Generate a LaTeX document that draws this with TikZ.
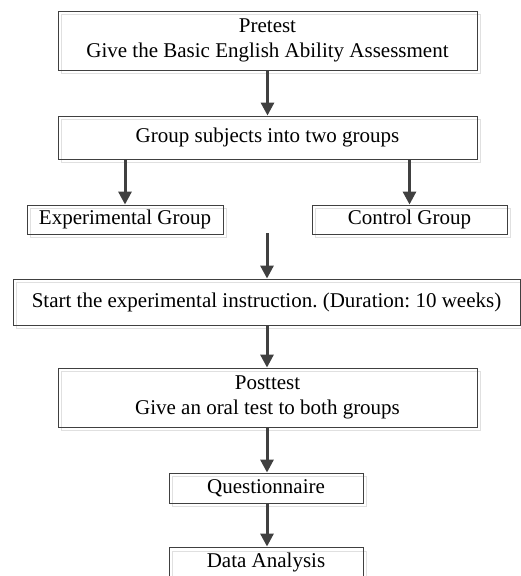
\documentclass[tikz,border=0pt]{standalone}
\usepackage{fontspec}
\setmainfont{Liberation Serif}
\usetikzlibrary{arrows.meta}
\frenchspacing

\begin{document}
\begin{tikzpicture}
[x=1pt,y=-1pt
,bx/.style={draw=black!75,line width=0.9pt,inner sep=0pt,align=center,
  font=\fontsize{21}{25}\selectfont}
,sh/.style={draw=black!12,line width=0.9pt}
,ar/.style={draw=black!75,line width=3pt,arrows={-Triangle[width=13pt,length=13pt]}}
]
\useasboundingbox (0,0) rectangle (520,576);
% shadows
\draw[sh] (61,14) rectangle (480,73);
\draw[sh] (61,119) rectangle (480,162);
\draw[sh] (30,208) rectangle (226,237);
\draw[sh] (315,208) rectangle (510,237);
\draw[sh] (16,282) rectangle (523,328);
\draw[sh] (61,371) rectangle (480,430);
\draw[sh] (172,476) rectangle (366,506);
\draw[sh] (172,551) rectangle (366,581);
% boxes
\node[bx,minimum width=419pt,minimum height=59pt] (pre) at (267.5,40.5)
  {Pretest\\Give the Basic English Ability Assessment};
\node[bx,minimum width=419pt,minimum height=43pt] (grp) at (267.5,137.5)
  {Group subjects into two groups};
\node[bx,minimum width=196pt,minimum height=29pt] (exp) at (125,219.5)
  {Experimental Group};
\node[bx,minimum width=195pt,minimum height=29pt] (ctl) at (409.5,219.5)
  {Control Group};
\node[bx,minimum width=507pt,minimum height=46pt] (start) at (266.5,302)
  {Start the experimental instruction. (Duration: 10 weeks)};
\node[bx,minimum width=419pt,minimum height=59pt] (post) at (267.5,397.5)
  {Posttest\\Give an oral test to both groups};
\node[bx,minimum width=194pt,minimum height=30pt] (quest) at (266,488)
  {Questionnaire};
\node[bx,minimum width=194pt,minimum height=30pt] (data) at (266,562)
  {Data Analysis};
\coordinate (join) at (267,233);
% arrows
\draw[ar] (pre.south) -- (grp.north);
\draw[ar] (grp.south -| exp.north) -- (exp.north);
\draw[ar] (grp.south -| ctl.north) -- (ctl.north);
\draw[ar] (join) -- (start.north -| join);
\draw[ar] (start.south -| join) -- (post.north -| join);
\draw[ar] (post.south -| join) -- (quest.north -| join);
\draw[ar] (quest.south -| join) -- (data.north -| join);
\end{tikzpicture}
\end{document}
